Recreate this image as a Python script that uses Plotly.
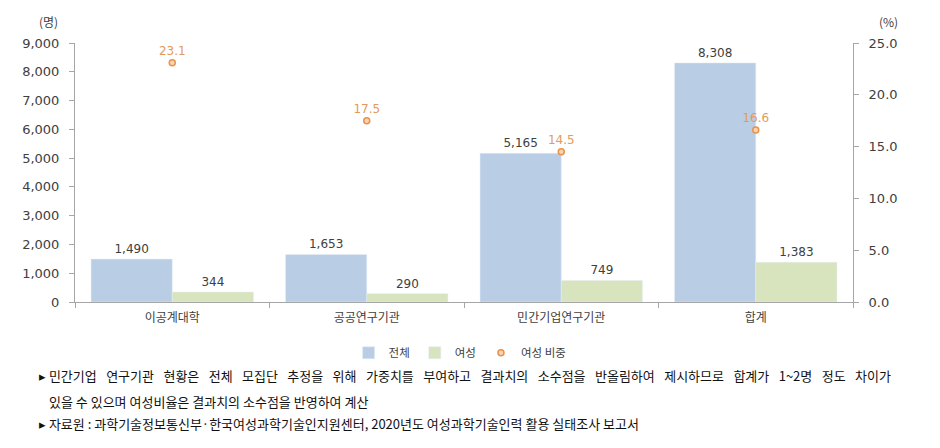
import plotly.graph_objects as go

categories = ["이공계대학", "공공연구기관", "민간기업연구기관", "합계"]
total = [1490, 1653, 5165, 8308]
female = [344, 290, 749, 1383]
female_ratio = [23.1, 17.5, 14.5, 16.6]

KR = "Noto Sans CJK KR"
NUM = "DejaVu Sans"

fig = go.Figure()
fig.add_trace(go.Bar(
    x=categories, y=total, name="전체",
    marker=dict(color="#B9CDE5"),
    text=[f"{v:,}" for v in total], textposition="outside",
    textfont=dict(family=NUM, size=12, color="#404040"),
    cliponaxis=False,
))
fig.add_trace(go.Bar(
    x=categories, y=female, name="여성",
    marker=dict(color="#D7E4BD"),
    text=[f"{v:,}" for v in female], textposition="outside",
    textfont=dict(family=NUM, size=12, color="#404040"),
    cliponaxis=False,
))
fig.add_trace(go.Scatter(
    x=categories, y=female_ratio, name="여성 비중", yaxis="y2",
    mode="markers+text",
    marker=dict(symbol="circle", size=6, color="#FBD3B0",
                line=dict(color="#E8924A", width=1.5)),
    text=[f"{v:.1f}" for v in female_ratio], textposition="top center",
    textfont=dict(family=NUM, size=12, color="#E39B5B"),
    cliponaxis=False,
))

fig.update_layout(
    width=940, height=448,
    margin=dict(l=75, r=87, t=43, b=146),
    paper_bgcolor="white", plot_bgcolor="white",
    barmode="group", bargap=0.165, bargroupgap=0,
    showlegend=True,
    legend=dict(orientation="h", x=0.495, xanchor="center", y=-0.14, yanchor="top",
                font=dict(family=KR, size=11.5, color="#404040"),
                itemwidth=30, tracegroupgap=0),
    xaxis=dict(
        showline=True, linecolor="#A6A6A6", linewidth=1,
        ticks="outside", tickson="boundaries", ticklen=5, tickcolor="#A6A6A6",
        tickfont=dict(family=KR, size=12, color="#404040"),
        ticklabelstandoff=5,
        showgrid=False,
    ),
    yaxis=dict(
        range=[0, 9000], dtick=1000, tickformat=",",
        showline=True, linecolor="#A6A6A6", linewidth=1,
        ticks="outside", ticklen=5, tickcolor="#A6A6A6",
        tickfont=dict(family=NUM, size=13, color="#404040"),
        ticklabelstandoff=7,
        showgrid=False, zeroline=False,
    ),
    yaxis2=dict(
        range=[0, 25], dtick=5, tickformat=".1f",
        overlaying="y", side="right",
        showline=True, linecolor="#A6A6A6", linewidth=1,
        ticks="outside", ticklen=5, tickcolor="#A6A6A6",
        tickfont=dict(family=NUM, size=13, color="#404040"),
        ticklabelstandoff=7,
        showgrid=False, zeroline=False,
    ),
)

fig.add_annotation(text="(명)", xref="paper", yref="paper", x=(48 - 75) / 778, y=(302 - 22) / 259,
                   xanchor="center", yanchor="middle", showarrow=False,
                   font=dict(family=KR, size=12, color="#404040"))
fig.add_annotation(text="(%)", xref="paper", yref="paper", x=(888 - 75) / 778, y=(302 - 22) / 259,
                   xanchor="center", yanchor="middle", showarrow=False,
                   font=dict(family=KR, size=12, color="#404040"))

gap = " \u2002"
line1_words = ["민간기업", "연구기관", "현황은", "전체", "모집단", "추정을", "위해", "가중치를",
               "부여하고", "결과치의", "소수점을", "반올림하여", "제시하므로", "합계가",
               "1~2명", "정도", "차이가"]
notes = [
    ("▸ " + gap.join(line1_words), 37, 375),
    ("있을 수 있으며 여성비율은 결과치의 소수점을 반영하여 계산", 47, 401),
    ("▸ 자료원 : 과학기술정보통신부·한국여성과학기술인지원센터, 2020년도 여성과학기술인력 활용 실태조사 보고서", 37, 423),
]
for txt, xpx, ypx in notes:
    fig.add_annotation(text=txt, xref="paper", yref="paper",
                       x=(xpx - 75) / 778, y=(302 - ypx) / 259,
                       xanchor="left", yanchor="middle", showarrow=False,
                       font=dict(family=KR, size=13, color="#111111"))

fig.write_html("out.html")
